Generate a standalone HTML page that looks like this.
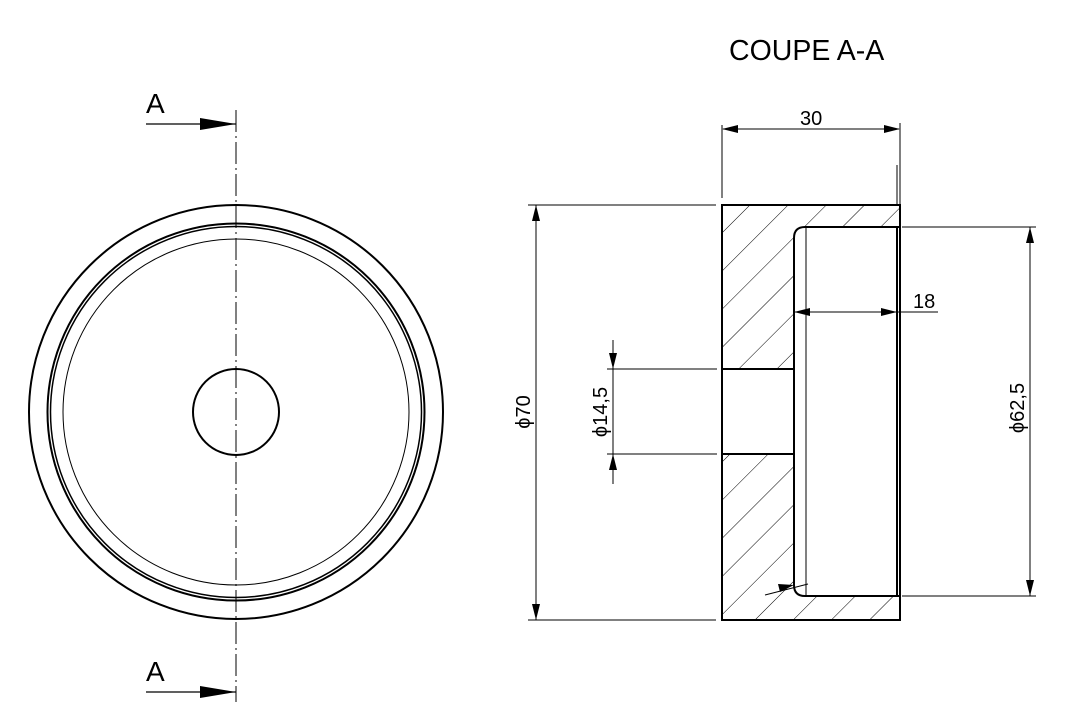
<!DOCTYPE html>
<html><head><meta charset="utf-8"><style>
html,body{margin:0;padding:0;background:#fff;}
svg{display:block;}
text{font-family:"Liberation Sans",sans-serif;fill:#000;}
</style></head><body>
<svg width="1091" height="725" viewBox="0 0 1091 725" xmlns="http://www.w3.org/2000/svg">
<defs>
<pattern id="h" patternUnits="userSpaceOnUse" width="27" height="27" patternTransform="rotate(45)">
<line x1="0" y1="0" x2="0" y2="27" stroke="#000" stroke-width="1"/>
</pattern>
</defs>
<g fill="none" stroke="#000">
<circle cx="236" cy="412" r="207" stroke-width="2"/>
<circle cx="236" cy="412" r="188.5" stroke-width="2"/>
<circle cx="236" cy="412" r="185.5" stroke-width="1.5"/>
<circle cx="236" cy="412" r="173" stroke-width="1"/>
<circle cx="236" cy="412" r="43" stroke-width="2"/>
<line x1="236" y1="110" x2="236" y2="702" stroke-width="1" stroke-dasharray="22,4,2,4"/>
<line x1="146" y1="124" x2="236" y2="124" stroke-width="1.2"/>
<line x1="146" y1="692" x2="236" y2="692" stroke-width="1.2"/>
</g>
<path d="M200,118 L236,124 L200,130 z" fill="#000"/>
<path d="M200,686 L236,692 L200,698 z" fill="#000"/>
<text x="146" y="113" font-size="28">A</text>
<text x="146" y="681" font-size="28">A</text>
<text x="729" y="60" font-size="28.5">COUPE A-A</text>
<path d="M722,205 H900 V227 H805 Q794,227 794,238 V369 H722 z M722,454 H794 V585 Q794,596 805,596 H900 V620 H722 z" fill="url(#h)" stroke="none"/>
<g fill="none" stroke="#000" stroke-width="2">
<path d="M722,205 H900 V620 H722 z"/>
<path d="M900,227 H805 Q794,227 794,238 V585 Q794,596 805,596 H900"/>
<line x1="722" y1="369" x2="794" y2="369"/>
<line x1="722" y1="454" x2="794" y2="454"/>
<line x1="897" y1="227" x2="897" y2="596"/>
</g>
<line x1="806" y1="227" x2="806" y2="596" stroke="#000" stroke-width="1"/>
<g stroke="#000" stroke-width="1" fill="none">
<line x1="722" y1="125" x2="722" y2="198"/>
<line x1="900" y1="123" x2="900" y2="205"/>
<line x1="897" y1="165" x2="897" y2="205"/>
<line x1="723" y1="129" x2="899" y2="129"/>
<line x1="795" y1="312" x2="938" y2="312"/>
<line x1="528" y1="205" x2="716" y2="205"/>
<line x1="528" y1="620" x2="716" y2="620"/>
<line x1="536" y1="205" x2="536" y2="620"/>
<line x1="607" y1="369" x2="717" y2="369"/>
<line x1="607" y1="454" x2="717" y2="454"/>
<line x1="613" y1="340" x2="613" y2="484"/>
<line x1="902" y1="227" x2="1036" y2="227"/>
<line x1="902" y1="596" x2="1036" y2="596"/>
<line x1="1030" y1="227" x2="1030" y2="596"/>
<line x1="765" y1="595" x2="808" y2="584"/>
</g>
<g fill="#000">
<path d="M722,129 L738,125 L738,133 z"/>
<path d="M900,129 L884,125 L884,133 z"/>
<path d="M794,312 L810,308 L810,316 z"/>
<path d="M897,312 L881,308 L881,316 z"/>
<path d="M536,205 L532,221 L540,221 z"/>
<path d="M536,620 L532,604 L540,604 z"/>
<path d="M613,369 L609,353 L617,353 z"/>
<path d="M613,454 L609,470 L617,470 z"/>
<path d="M1030,227 L1026,243 L1034,243 z"/>
<path d="M1030,596 L1026,580 L1034,580 z"/>
<path d="M794,585 L778,584 L780,592 z"/>
</g>
<text x="800" y="125" font-size="20">30</text>
<text x="913" y="308" font-size="20">18</text>
<text transform="translate(530,412) rotate(-90)" text-anchor="middle" font-size="20">ϕ70</text>
<text transform="translate(607,412) rotate(-90)" text-anchor="middle" font-size="20">ϕ14,5</text>
<text transform="translate(1024,408) rotate(-90)" text-anchor="middle" font-size="20">ϕ62,5</text>
</svg>
</body></html>
